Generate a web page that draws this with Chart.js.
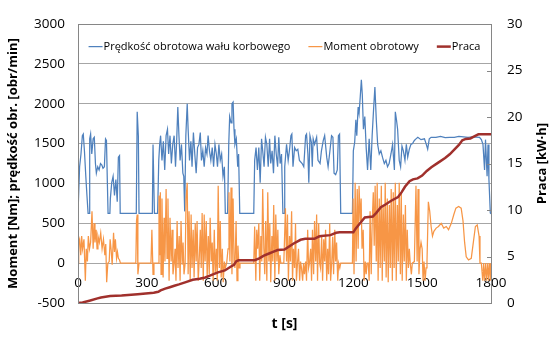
<!DOCTYPE html>
<html lang="pl">
<head>
<meta charset="utf-8">
<script src="https://cdn.jsdelivr.net/npm/chart.js@4.4.1/dist/chart.umd.min.js"></script>
<style>
  html, body { margin: 0; padding: 0; background: #fff; }
  canvas { display: block; }
</style>
</head>
<body>
<canvas id="wykres" width="559" height="344"></canvas>
<script>
// dane (czas w s)
const czasPredkosc = [0,3,7,13,19,23,28,34,39,44,48,51,55,60,66,71,76,80,86,92,98,104,109,115,120,124,128,131,139,141,147,153,159,165,171,176,181,184,254,258,263,266,324,327,333,347,352,356,360,366,372,378,384,390,395,401,407,413,419,425,430,435,440,445,451,457,461,465,470,476,480,486,492,497,503,509,515,521,527,533,538,544,550,556,562,567,573,579,585,591,597,603,608,614,620,626,632,638,642,652,657,661,667,671,676,680,684,690,696,700,705,766,770,776,782,788,794,800,805,811,817,823,829,835,840,846,852,858,864,870,875,881,887,893,899,901,909,916,923,928,932,937,944,951,958,965,977,984,992,996,1002,1006,1011,1017,1021,1025,1031,1040,1046,1055,1061,1069,1075,1084,1090,1098,1105,1111,1116,1123,1130,1135,1140,1145,1196,1200,1206,1211,1215,1221,1225,1230,1235,1239,1244,1250,1256,1262,1269,1276,1282,1288,1294,1300,1306,1313,1320,1327,1335,1342,1349,1356,1364,1371,1379,1383,1388,1393,1400,1406,1412,1418,1425,1431,1437,1444,1451,1458,1466,1473,1481,1495,1510,1517,1524,1531,1539,1560,1580,1600,1620,1640,1660,1680,1700,1720,1750,1758,1765,1772,1776,1783,1787,1791,1797,1800];
const predkosc = [625,625,1210,1370,1600,1620,1410,1090,850,625,625,1560,1620,1370,1560,1580,1250,1130,1210,1170,1250,1230,1190,1210,1560,1540,1010,625,625,810,1010,1090,850,1050,770,1330,1350,625,625,1900,1600,625,625,1490,625,625,1290,1490,1600,1290,1530,1170,1600,1680,1370,1600,1250,1490,1600,1210,1530,1960,1600,1290,1490,1130,1090,650,1600,2000,1680,1290,1530,1210,1640,1370,1130,1450,1490,1640,1290,1410,1210,1450,1370,1600,1410,1290,1450,1210,1490,1370,1210,1490,1290,1370,1090,1210,625,625,1490,1840,1760,2000,2020,1680,1490,1560,1210,1370,625,625,1290,1450,1170,1450,1010,1560,1410,1210,1580,1490,1210,1560,1250,1410,1130,1600,1370,1210,1580,1250,1370,625,625,1210,1490,1290,1450,1600,1620,1210,1450,1410,1430,1290,1250,1210,1600,1620,1370,1010,1600,1520,1210,1560,1490,1580,1290,1250,1410,1540,1600,1330,1210,1410,1600,1580,1130,1110,1170,1600,1620,625,625,1410,1520,1800,1600,1960,1880,2080,2300,2120,1680,1840,1450,1170,1560,1170,1600,1920,2210,1800,1490,1370,1410,1330,1250,1290,1210,1250,1370,1490,1170,1900,1800,1680,1290,1210,1470,1410,1290,1490,1330,1430,1490,1500,1540,1560,1580,1550,1560,1500,1430,1560,1580,1580,1590,1575,1580,1580,1590,1585,1580,1585,1580,1550,1490,1170,1550,1090,1490,1050,630,620];

const czasMoment = [0,3,7,12,16,20,26,32,36,41,45,50,55,61,66,70,74,79,83,87,93,99,105,111,117,121,125,130,136,140,144,149,155,159,163,168,172,176,181,185,252,255,258,261,266,318,322,327,331,349,353,356,359,362,366,371,375,379,384,388,392,397,401,406,410,414,419,423,427,432,436,441,445,449,454,458,462,467,471,476,480,484,489,493,497,502,506,511,515,519,524,528,533,537,541,546,550,554,559,563,568,572,576,581,585,589,594,598,603,607,611,616,620,624,629,633,638,642,648,654,658,662,667,671,676,680,684,689,693,697,702,706,766,770,775,779,783,788,792,797,801,805,810,814,818,823,827,832,836,840,845,849,853,858,862,867,871,875,880,884,897,904,909,913,917,922,926,931,935,939,944,948,952,957,961,966,970,974,979,983,987,992,996,1001,1005,1009,1014,1018,1022,1027,1031,1036,1040,1044,1049,1053,1057,1062,1066,1071,1075,1079,1084,1088,1092,1097,1101,1106,1110,1114,1119,1123,1127,1132,1136,1141,1145,1196,1199,1203,1208,1212,1217,1221,1225,1230,1234,1238,1243,1247,1252,1256,1260,1265,1269,1273,1278,1282,1287,1291,1295,1300,1304,1308,1313,1317,1322,1326,1330,1335,1339,1343,1348,1352,1357,1361,1365,1370,1374,1378,1383,1387,1392,1396,1400,1405,1409,1413,1418,1422,1427,1431,1435,1440,1444,1448,1453,1457,1466,1473,1478,1482,1486,1491,1495,1500,1504,1508,1513,1517,1521,1527,1533,1539,1545,1551,1561,1571,1583,1594,1605,1615,1627,1638,1647,1659,1670,1678,1685,1692,1702,1714,1723,1732,1740,1748,1752,1758,1764,1768,1772,1777,1781,1786,1790,1794,1799,1800];
const moment = [0,260,300,100,340,180,300,-220,180,20,340,180,260,650,180,500,260,420,180,340,260,380,180,300,100,240,-240,0,20,300,180,-20,380,140,300,60,140,60,40,0,0,530,610,-140,0,0,420,-140,0,0,850,100,890,-140,810,-180,570,20,930,60,810,-220,570,20,420,-140,0,180,-220,530,-60,340,-220,530,-20,260,-140,0,810,1010,-140,650,-220,610,-60,420,-180,500,20,530,-220,20,420,-60,630,-220,610,20,530,-180,340,-140,570,20,260,-220,420,-140,180,-220,970,-60,530,-180,180,-240,20,-60,0,180,890,20,950,-140,810,20,-60,530,-220,220,-60,0,0,460,-220,420,180,500,-220,340,20,930,180,-140,530,-220,890,20,500,-240,340,20,730,-220,610,20,420,-140,100,0,0,690,20,610,-220,340,20,650,-220,180,-60,500,-220,20,180,-220,20,-60,-220,0,-140,20,-220,420,-60,0,180,-220,420,-140,530,20,610,-220,500,0,-60,340,-220,300,20,420,-220,180,-140,500,-220,20,330,-140,420,20,260,-220,0,-60,0,0,810,-140,1010,20,930,180,970,530,810,180,420,-220,20,-140,0,0,-220,650,-140,500,890,220,970,20,1010,-220,810,-60,970,-220,730,20,1010,-180,810,-240,730,-60,930,-220,890,-60,1010,-220,730,20,1010,-140,890,-220,610,20,730,-220,420,-60,180,0,-140,0,20,970,20,930,-140,180,260,180,-220,20,-220,-60,20,770,650,460,340,400,440,460,500,440,460,420,500,610,690,710,690,530,260,80,40,60,260,460,480,340,0,0,-220,0,-220,0,-220,0,-220,0,-220,0];

const czasPraca = [0,20,50,85,100,140,190,260,330,350,360,380,400,420,440,470,500,530,555,580,610,640,665,680,690,700,770,790,810,830,850,870,900,915,940,970,990,1030,1050,1060,1100,1125,1140,1200,1210,1230,1250,1285,1300,1320,1340,1365,1395,1410,1425,1445,1460,1480,1500,1520,1540,1570,1600,1620,1640,1660,1675,1690,1710,1725,1745,1800];
const praca = [0,0.05,0.25,0.5,0.6,0.75,0.8,0.95,1.1,1.2,1.35,1.55,1.7,1.85,2.0,2.25,2.5,2.6,2.75,3.0,3.3,3.5,3.9,4.1,4.5,4.6,4.6,4.8,5.1,5.3,5.5,5.7,5.75,6.0,6.4,6.8,6.9,6.9,7.15,7.2,7.3,7.55,7.6,7.6,8.0,8.6,9.2,9.3,9.7,10.3,10.6,11.0,11.4,11.9,12.5,13.1,13.3,13.4,13.7,14.2,14.6,15.1,15.6,16.0,16.5,17.0,17.5,17.65,17.7,17.9,18.15,18.15];

const etykietySerii = ['Prędkość obrotowa wału korbowego', 'Moment obrotowy', 'Praca'];

function punkty(xs, ys) {
  return xs.map((x, i) => ({ x: x, y: ys[i] }));
}

// liczby bez separatora tysięcy, jak w Excelu
const bezSeparatora = v => String(v);

Chart.defaults.font.family = '"Open Sans", sans-serif';
Chart.defaults.color = '#000';

// ramka, legenda w polu wykresu i tytuł prawej osi
const dodatki = {
  id: 'dodatki',
  afterDraw(chart) {
    const ctx = chart.ctx;
    const a = chart.chartArea;
    ctx.save();
    ctx.strokeStyle = '#868686';
    ctx.lineWidth = 1;
    ctx.strokeRect(Math.round(a.left) + 0.5, Math.round(a.top) + 0.5, Math.round(a.right - a.left), Math.round(a.bottom - a.top));

    const y1 = chart.scales.y1;
    y1.ticks.forEach(t => {
      const py = Math.round(y1.getPixelForValue(t.value)) + 0.5;
      ctx.beginPath();
      ctx.moveTo(a.right - 4, py);
      ctx.lineTo(a.right, py);
      ctx.stroke();
    });

    ctx.font = '11px "Open Sans"';
    ctx.textBaseline = 'middle';
    ctx.textAlign = 'left';
    const probka = 14, odstep = 18;
    const szer = chart.data.datasets.map(d => probka + 1 + ctx.measureText(d.label).width);
    const razem = szer.reduce((s, w) => s + w, 0) + odstep * (szer.length - 1);
    let x = (a.left + a.right) / 2 - razem / 2;
    const yl = a.top + 22.5;
    chart.data.datasets.forEach((d, i) => {
      ctx.strokeStyle = d.borderColor;
      ctx.lineWidth = d.borderWidth;
      ctx.beginPath();
      ctx.moveTo(x, yl);
      ctx.lineTo(x + probka, yl);
      ctx.stroke();
      ctx.fillStyle = '#000';
      ctx.fillText(d.label, x + probka + 1, yl + 0.5);
      x += szer[i] + odstep;
    });

    ctx.translate(542, (a.top + a.bottom) / 2);
    ctx.rotate(-Math.PI / 2);
    ctx.font = 'bold 13px "Open Sans"';
    ctx.textAlign = 'center';
    ctx.fillText('Praca [kW·h]', 0, 0);
    ctx.restore();
  }
};

new Chart(document.getElementById('wykres'), {
  type: 'line',
  data: {
    datasets: [
      {
        label: etykietySerii[0],
        data: punkty(czasPredkosc, predkosc),
        borderColor: '#4F81BD',
        borderWidth: 1.25,
        yAxisID: 'y',
        order: 2
      },
      {
        label: etykietySerii[1],
        data: punkty(czasMoment, moment),
        borderColor: '#F79646',
        borderWidth: 1.25,
        yAxisID: 'y',
        order: 1
      },
      {
        label: etykietySerii[2],
        data: punkty(czasPraca, praca),
        borderColor: '#A0302C',
        borderWidth: 2.5,
        yAxisID: 'y1',
        order: 0
      }
    ]
  },
  options: {
    responsive: false,
    animation: false,
    devicePixelRatio: 1,
    layout: { padding: { top: 9, left: 0, right: 0, bottom: 0 } },
    elements: { point: { radius: 0 }, line: { tension: 0 } },
    plugins: { legend: { display: false }, tooltip: { enabled: false } },
    scales: {
      x: {
        type: 'linear',
        position: { y: 0 },
        min: 0,
        max: 1800,
        grid: { display: false, drawTicks: false },
        border: { display: false },
        ticks: { stepSize: 300, padding: 12, font: { size: 13.5 }, maxRotation: 0, callback: bezSeparatora }
      },
      xTytul: {
        type: 'linear',
        position: 'bottom',
        min: 0,
        max: 1800,
        grid: { display: false, drawTicks: false },
        border: { display: false },
        ticks: { display: false },
        title: { display: true, text: 't [s]', font: { size: 14, weight: 'bold' }, padding: { top: 0, bottom: 12 } },
        afterFit(s) { s.height = 41; }
      },
      y: {
        position: 'left',
        min: -500,
        max: 3000,
        grid: { color: '#A6A6A6', drawTicks: false },
        border: { display: true, color: '#868686' },
        ticks: { stepSize: 500, padding: 13, font: { size: 13.5 }, callback: bezSeparatora },
        title: { display: true, text: 'Moment [Nm]; prędkość obr. [obr/min]', font: { size: 13, weight: 'bold' }, padding: { top: 5, bottom: 0 } },
        afterFit(s) { s.width = 78; }
      },
      y1: {
        position: 'right',
        min: 0,
        max: 30,
        grid: { drawOnChartArea: false, drawTicks: false },
        border: { display: true, color: '#868686' },
        ticks: { stepSize: 5, padding: 16, font: { size: 13.5 }, callback: bezSeparatora },
        afterFit(s) { s.width = 68; }
      }
    }
  },
  plugins: [dodatki]
});
</script>
</body>
</html>
